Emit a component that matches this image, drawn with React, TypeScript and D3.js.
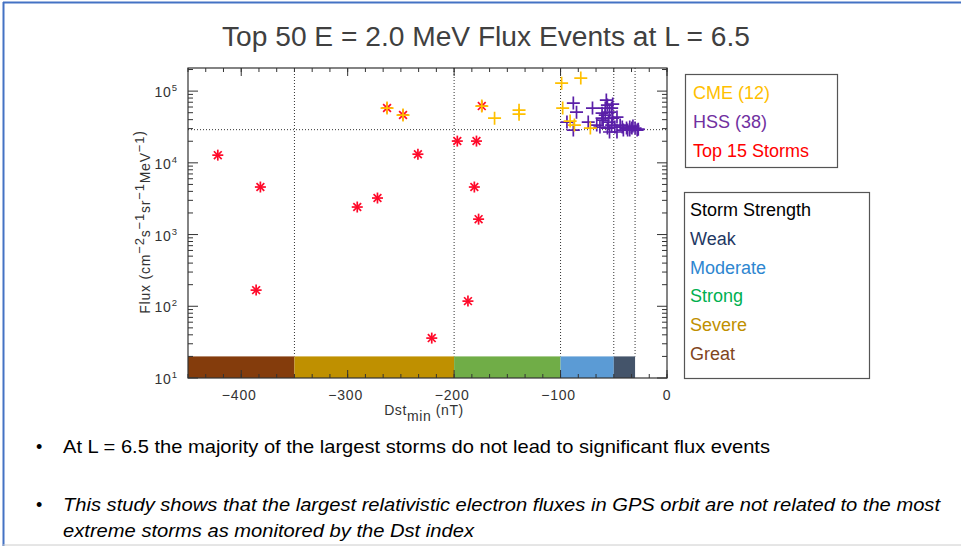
import * as d3 from "d3";
import { useEffect, useRef } from "react";

// Top 15 storms (Dst min, flux)
const stormDst = [-422, -382, -386, -291, -272, -263, -248, -234, -221, -197, -187, -181, -179, -177, -174];
const stormFlux = [12800, 4600, 168, 2420, 3230, 58000, 46400, 13200, 36, 20100, 118, 4600, 20100, 1640, 61800];

// CME events (12)
const cmeDst = [-263, -248, -174, -162, -139, -139, -99, -81, -98, -91, -87, -72];
const cmeFlux = [58000, 46400, 61800, 42000, 54300, 47700, 129000, 152000, 58000, 38200, 33600, 30500];

// HSS events (38)
const hssDst = [
  -88, -85, -70, -94, -88, -74, -66, -57, -56, -51, -61, -58, -54, -60, -55, -51, -47, -52, -56,
  -49, -44, -47, -41, -38, -35, -32, -30, -28, -37, -33, -42, -54, -63, -58, -52, -61, -35, -27,
];
const hssFlux = [
  68100, 50900, 58000, 37000, 28600, 37000, 33600, 75000, 63800, 65900, 49300, 46300, 50900, 39500,
  37000, 42100, 43500, 33600, 30500, 31500, 33600, 26900, 28600, 30500, 31500, 32500, 30500, 28600,
  28600, 30500, 31500, 26900, 31500, 58000, 58000, 42100, 28600, 29500,
];

// storm strength bands
const bandEdges = [-450, -350, -200, -100, -50, -30];
const bandNames = ["Great", "Severe", "Strong", "Moderate", "Weak"];
const bandColors = ["#843C0C", "#BF9000", "#70AD47", "#5B9BD5", "#44546A"];
const fluxThreshold = 29000;

const xTicks = [-400, -300, -200, -100, 0];
const yTicks = [1, 2, 3, 4, 5];

const legendTop = [
  { label: "CME (12)", color: "#FFC000" },
  { label: "HSS (38)", color: "#7030A0" },
  { label: "Top 15 Storms", color: "#FF0000" },
];
const legendStrength = [
  { label: "Storm Strength", color: "#000000" },
  { label: "Weak", color: "#1F3864" },
  { label: "Moderate", color: "#2E86D0" },
  { label: "Strong", color: "#00B050" },
  { label: "Severe", color: "#BF9000" },
  { label: "Great", color: "#7F4520" },
];

const title = "Top 50 E = 2.0 MeV Flux Events at L = 6.5";
const bullet1 = "At L = 6.5 the majority of the largest storms do not lead to significant flux events";
const bullet2a = "This study shows that the largest relativistic electron fluxes in GPS orbit are not related to the most";
const bullet2b = "extreme storms as monitored by the Dst index";

export default function App() {
  const svgRef = useRef<SVGSVGElement>(null);

  useEffect(() => {
    document.body.style.margin = "0";
    if (!svgRef.current) return;
    const svg = d3.select(svgRef.current);
    svg.selectAll("*").remove();

    const font = "'Liberation Sans', Arial, sans-serif";
    const left = 188,
      right = 667,
      top = 68,
      bottom = 378;

    const x = d3.scaleLinear().domain([-450, 0]).range([left, right]);
    const y = d3.scaleLog().domain([10, 2.1e5]).range([bottom, top]);

    // slide frame
    svg.append("rect").attr("width", 961).attr("height", 546).attr("fill", "#fff");
    svg.append("line").attr("x1", 3).attr("x2", 961).attr("y1", 2.5).attr("y2", 2.5).attr("stroke", "#4472C4").attr("stroke-width", 2);
    svg.append("line").attr("x1", 3.5).attr("x2", 3.5).attr("y1", 2).attr("y2", 546).attr("stroke", "#4472C4").attr("stroke-width", 2);
    svg.append("line").attr("x1", 3).attr("x2", 961).attr("y1", 545).attr("y2", 545).attr("stroke", "#ccc").attr("stroke-width", 1);

    svg.append("text")
      .attr("x", 486)
      .attr("y", 46)
      .attr("text-anchor", "middle")
      .attr("font-family", font)
      .attr("font-size", 27)
      .attr("fill", "#404040")
      .attr("textLength", 528)
      .attr("lengthAdjust", "spacingAndGlyphs")
      .text(title);

    const g = svg.append("g");

    // dotted guide lines
    bandEdges.slice(1).forEach((d) => {
      g.append("line")
        .attr("x1", x(d))
        .attr("x2", x(d))
        .attr("y1", top)
        .attr("y2", y(20))
        .attr("stroke", "#333")
        .attr("stroke-width", 1)
        .attr("stroke-dasharray", "1,2");
    });
    g.append("line")
      .attr("x1", left)
      .attr("x2", right)
      .attr("y1", y(fluxThreshold))
      .attr("y2", y(fluxThreshold))
      .attr("stroke", "#333")
      .attr("stroke-width", 1)
      .attr("stroke-dasharray", "1,2");

    // strength bands
    bandNames.forEach((_, i) => {
      g.append("rect")
        .attr("x", x(bandEdges[i]))
        .attr("width", x(bandEdges[i + 1]) - x(bandEdges[i]))
        .attr("y", y(20))
        .attr("height", y(10) - y(20))
        .attr("fill", bandColors[i]);
    });

    // axis box
    g.append("rect")
      .attr("x", left)
      .attr("y", top)
      .attr("width", right - left)
      .attr("height", bottom - top)
      .attr("fill", "none")
      .attr("stroke", "#333")
      .attr("stroke-width", 1.2);

    // x ticks (inward, top and bottom)
    const xMinor = d3.range(-450, 0.1, 100 / 6);
    xMinor.forEach((v) => {
      g.append("line").attr("x1", x(v)).attr("x2", x(v)).attr("y1", bottom).attr("y2", bottom - 4).attr("stroke", "#333");
      g.append("line").attr("x1", x(v)).attr("x2", x(v)).attr("y1", top).attr("y2", top + 4).attr("stroke", "#333");
    });
    xTicks.forEach((v) => {
      g.append("line").attr("x1", x(v)).attr("x2", x(v)).attr("y1", bottom).attr("y2", bottom - 8).attr("stroke", "#333");
      g.append("line").attr("x1", x(v)).attr("x2", x(v)).attr("y1", top).attr("y2", top + 8).attr("stroke", "#333");
      g.append("text")
        .attr("x", x(v) + (v === 0 ? 0 : -2))
        .attr("y", 400)
        .attr("text-anchor", "middle")
        .attr("font-family", font)
        .attr("font-size", 14)
        .attr("letter-spacing", 0.8)
        .attr("fill", "#333")
        .text(v === 0 ? "0" : `\u2212${Math.abs(v)}`);
    });

    // y ticks (log)
    const yMinor: number[] = [];
    for (let e = 1; e <= 5; e++) for (let m = 1; m <= 9; m++) if (m * 10 ** e <= 2.1e5) yMinor.push(m * 10 ** e);
    yMinor.forEach((v) => {
      const len = Math.abs(Math.log10(v) % 1) < 1e-9 ? 10 : 5;
      g.append("line").attr("x1", left).attr("x2", left + len).attr("y1", y(v)).attr("y2", y(v)).attr("stroke", "#333");
      g.append("line").attr("x1", right).attr("x2", right - len).attr("y1", y(v)).attr("y2", y(v)).attr("stroke", "#333");
    });
    yTicks.forEach((e) => {
      const t = g.append("text")
        .attr("x", 177)
        .attr("y", y(10 ** e) + 6)
        .attr("text-anchor", "end")
        .attr("font-family", font)
        .attr("font-size", 14)
        .attr("fill", "#333");
      t.append("tspan").attr("letter-spacing", 0.8).text("10");
      t.append("tspan").attr("font-size", 9.5).attr("dy", -6).text(String(e));
    });

    // axis titles
    const xt = g.append("text")
      .attr("x", 424)
      .attr("y", 415)
      .attr("text-anchor", "middle")
      .attr("font-family", font)
      .attr("font-size", 14)
      .attr("letter-spacing", 0.6)
      .attr("fill", "#333");
    xt.append("tspan").text("Dst");
    xt.append("tspan").attr("dy", 6).text("min");
    xt.append("tspan").attr("dy", -6).text(" (nT)");

    const yt = g.append("text")
      .attr("transform", "translate(150,222) rotate(-90)")
      .attr("text-anchor", "middle")
      .attr("font-family", font)
      .attr("font-size", 14)
      .attr("letter-spacing", 0.8)
      .attr("fill", "#333");
    const parts: [string, string][] = [
      ["Flux (cm", "\u22122"],
      ["s", "\u22121"],
      ["sr", "\u22121"],
      ["MeV", "\u22121"],
    ];
    parts.forEach(([base, sup], i) => {
      yt.append("tspan").attr("dy", i === 0 ? 0 : 6).text(base);
      yt.append("tspan").attr("dy", -6).attr("font-size", 13).text(sup);
    });
    yt.append("tspan").attr("dy", 0).text(")");

    // markers
    const asterisk = (cx: number, cy: number, color: string) => {
      const r = 5.5;
      [0, 45, 90, 135].forEach((a) => {
        const dx = r * Math.cos((a * Math.PI) / 180);
        const dy = r * Math.sin((a * Math.PI) / 180);
        g.append("line")
          .attr("x1", cx - dx)
          .attr("x2", cx + dx)
          .attr("y1", cy - dy)
          .attr("y2", cy + dy)
          .attr("stroke", color)
          .attr("stroke-width", 1.7);
      });
    };
    const plus = (cx: number, cy: number, color: string) => {
      const r = 6.5;
      g.append("path")
        .attr("d", `M${cx - r},${cy}H${cx + r}M${cx},${cy - r}V${cy + r}`)
        .attr("stroke", color)
        .attr("stroke-width", 1.7)
        .attr("fill", "none");
    };

    stormDst.forEach((d, i) => asterisk(x(d), y(stormFlux[i]), "#FF0A2A"));
    hssDst.forEach((d, i) => plus(x(d), y(hssFlux[i]), "#5A1FA8"));
    cmeDst.forEach((d, i) => plus(x(d), y(cmeFlux[i]), "#FFC000"));

    // legends
    svg.append("rect").attr("x", 685.5).attr("y", 74.5).attr("width", 152).attr("height", 93).attr("fill", "#fff").attr("stroke", "#555").attr("stroke-width", 1.2);
    legendTop.forEach((d, i) => {
      svg.append("text")
        .attr("x", 693)
        .attr("y", 99 + i * 29)
        .attr("font-family", font)
        .attr("font-size", 18)
        .attr("fill", d.color)
        .text(d.label);
    });
    svg.append("rect").attr("x", 684.5).attr("y", 192.5).attr("width", 185).attr("height", 186).attr("fill", "#fff").attr("stroke", "#555").attr("stroke-width", 1.2);
    legendStrength.forEach((d, i) => {
      svg.append("text")
        .attr("x", 690)
        .attr("y", 216 + i * 28.8)
        .attr("font-family", font)
        .attr("font-size", 18)
        .attr("fill", d.color)
        .text(d.label);
    });

    // bullets
    const bullets: [string, number, number, boolean, boolean][] = [
      [bullet1, 453, 707, false, true],
      [bullet2a, 511, 877, true, true],
      [bullet2b, 537, 411, true, false],
    ];
    bullets.forEach(([txt, yy, len, italic, dot]) => {
      if (dot) {
        svg.append("text").attr("x", 36).attr("y", yy).attr("font-family", font).attr("font-size", 18).attr("fill", "#000").text("\u2022");
      }
      svg.append("text")
        .attr("x", 63)
        .attr("y", yy)
        .attr("font-family", font)
        .attr("font-size", 18.5)
        .attr("font-style", italic ? "italic" : "normal")
        .attr("fill", "#000")
        .attr("textLength", len)
        .attr("lengthAdjust", "spacingAndGlyphs")
        .text(txt);
    });
  }, []);

  return <svg ref={svgRef} width={961} height={546} style={{ display: "block" }} />;
}
